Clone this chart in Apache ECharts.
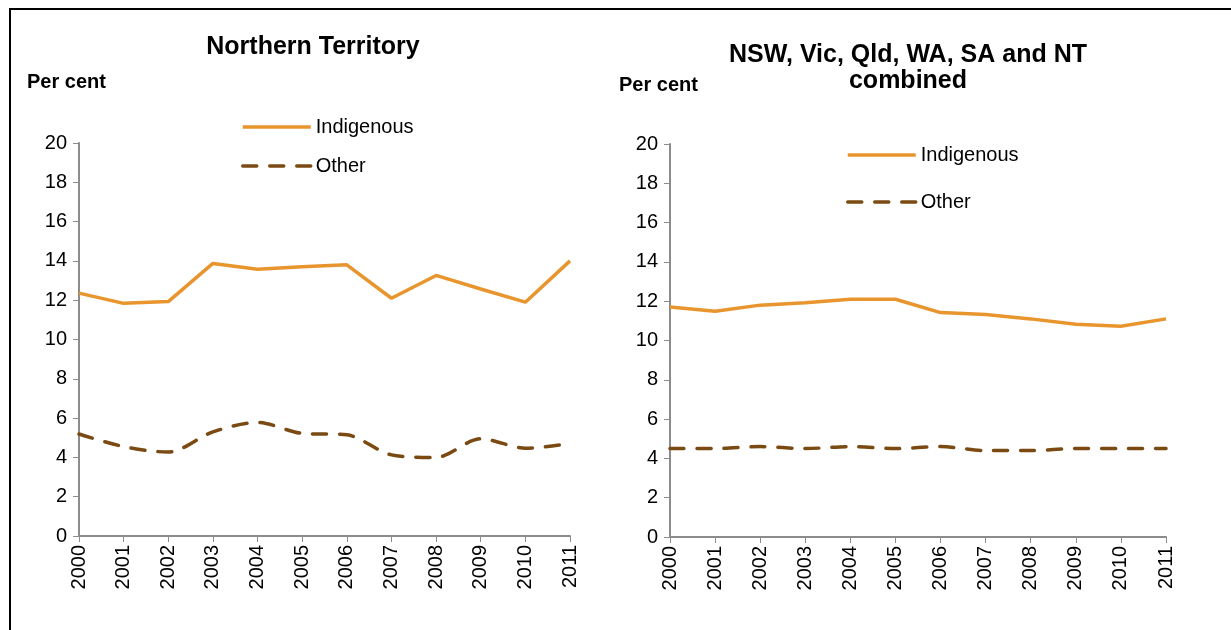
<!DOCTYPE html>
<html>
<head>
<meta charset="utf-8">
<script src="https://cdn.jsdelivr.net/npm/echarts@6/dist/echarts.min.js"></script>
<style>
  html, body { margin: 0; padding: 0; background: #fff; }
  #chart { width: 1231px; height: 630px; }
</style>
</head>
<body>
<div id="chart"></div>
<script>
// 年份（两个图共用）
const years = ['2000', '2001', '2002', '2003', '2004', '2005', '2006', '2007', '2008', '2009', '2010', '2011'];

// 北领地
const ntIndigenous = [12.36, 11.84, 11.93, 13.87, 13.58, 13.7, 13.8, 12.1, 13.26, 12.57, 11.9, 14.0];
const ntOther = [5.19, 4.55, 4.27, 5.3, 5.78, 5.22, 5.15, 4.13, 4.0, 4.95, 4.47, 4.7];

// 六个州合计
const allIndigenous = [11.71, 11.49, 11.8, 11.92, 12.1, 12.1, 11.42, 11.32, 11.1, 10.83, 10.73, 11.1];
const allOther = [4.5, 4.5, 4.6, 4.5, 4.6, 4.5, 4.6, 4.4, 4.4, 4.5, 4.5, 4.5];

const FONT = '"Liberation Sans", Arial, sans-serif';
const ORANGE = '#E8952E';
const BROWN = '#7A4A12';
const AXIS = '#8C8C8C';

const chart = echarts.init(document.getElementById('chart'));

function xAxisFor(gridIndex) {
    return {
        type: 'category',
        gridIndex: gridIndex,
        data: years,
        boundaryGap: false,
        axisLine: { lineStyle: { color: AXIS, width: 2 } },
        axisTick: { show: true, length: 6, alignWithLabel: true, lineStyle: { color: AXIS, width: 1 } },
        axisLabel: { rotate: 90, margin: 9, color: '#000', fontSize: 20, fontFamily: FONT, interval: 0 },
        splitLine: { show: false }
    };
}

function yAxisFor(gridIndex) {
    return {
        type: 'value',
        gridIndex: gridIndex,
        min: 0,
        max: 20,
        interval: 2,
        axisLine: { show: true, lineStyle: { color: AXIS, width: 2 } },
        axisTick: { show: true, length: 6, lineStyle: { color: AXIS, width: 1 } },
        axisLabel: { color: '#000', fontSize: 20, fontFamily: FONT, margin: 12 },
        splitLine: { show: false }
    };
}

function lineSeries(name, data, idx, dashed) {
    return {
        name: name,
        type: 'line',
        xAxisIndex: idx,
        yAxisIndex: idx,
        data: data,
        symbol: 'none',
        smooth: dashed ? 0.3 : false,
        lineStyle: dashed
            ? { color: BROWN, width: 3.5, type: [14, 13], cap: 'round' }
            : { color: ORANGE, width: 3.5 },
        itemStyle: { color: dashed ? BROWN : ORANGE }
    };
}

// 图例：只画线，不画圆点
function legendAt(left, top, gap) {
    return {
        orient: 'vertical',
        left: left,
        top: top,
        itemWidth: 68,
        itemHeight: 16,
        itemGap: gap,
        itemTextGap: 11,
        itemStyle: { opacity: 0 },
        lineStyle: { width: 3.5 },
        textStyle: { fontSize: 20, fontFamily: FONT, color: '#000' },
        data: ['Indigenous', 'Other']
    };
}

chart.setOption({
    animation: false,
    backgroundColor: '#fff',
    grid: [
        { left: 79, top: 143, width: 491, height: 393 },
        { left: 670, top: 144, width: 496, height: 393 }
    ],
    xAxis: [xAxisFor(0), xAxisFor(1)],
    yAxis: [yAxisFor(0), yAxisFor(1)],
    legend: [legendAt(236, 112, 19), legendAt(841, 140, 27)],
    series: [
        lineSeries('Indigenous', ntIndigenous, 0, false),
        lineSeries('Other', ntOther, 0, true),
        lineSeries('Indigenous', allIndigenous, 1, false),
        lineSeries('Other', allOther, 1, true)
    ],
    graphic: [
        {
            type: 'rect',
            shape: { x: 10, y: 9, width: 1260, height: 700 },
            style: { fill: 'none', stroke: '#000', lineWidth: 2 },
            silent: true
        },
        {
            type: 'text',
            x: 313, y: 47,
            style: { text: 'Northern Territory', font: 'bold 25px ' + FONT, fill: '#000', align: 'center', verticalAlign: 'middle' }
        },
        {
            type: 'text',
            x: 908, y: 55,
            style: { text: 'NSW, Vic, Qld, WA, SA and NT', font: 'bold 25px ' + FONT, fill: '#000', align: 'center', verticalAlign: 'middle' }
        },
        {
            type: 'text',
            x: 908, y: 81,
            style: { text: 'combined', font: 'bold 25px ' + FONT, fill: '#000', align: 'center', verticalAlign: 'middle' }
        },
        {
            type: 'text',
            x: 27, y: 82,
            style: { text: 'Per cent', font: 'bold 20px ' + FONT, fill: '#000', align: 'left', verticalAlign: 'middle' }
        },
        {
            type: 'text',
            x: 619, y: 85,
            style: { text: 'Per cent', font: 'bold 20px ' + FONT, fill: '#000', align: 'left', verticalAlign: 'middle' }
        }
    ]
});
</script>
</body>
</html>
